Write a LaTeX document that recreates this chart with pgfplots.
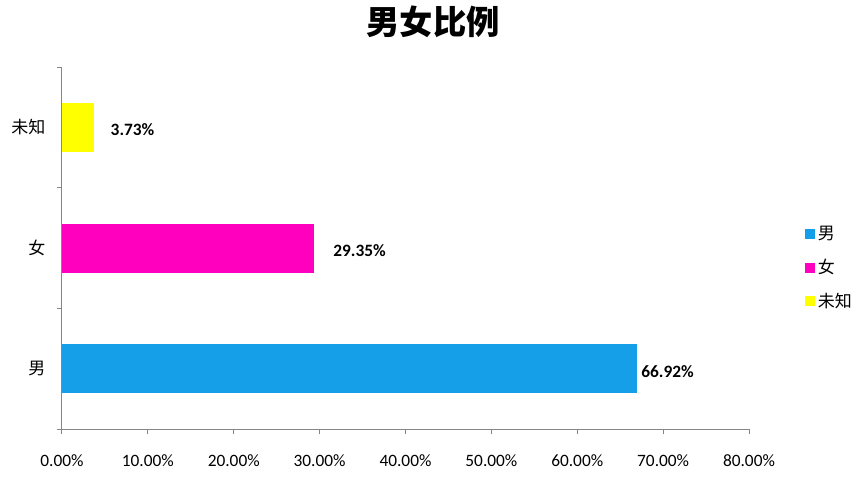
\documentclass[border=0pt]{standalone}
\usepackage{fontspec}
\usepackage{pgfplots}
\pgfplotsset{compat=1.18}
\setmainfont{Carlito}
\newfontfamily\cjk{Noto Sans CJK SC}
\definecolor{barblue}{RGB}{22,159,233}
\definecolor{barpink}{RGB}{255,0,191}
\definecolor{baryellow}{RGB}{255,255,0}
\definecolor{axisgray}{RGB}{134,134,134}

\begin{document}
\begin{tikzpicture}
% 1px = 0.75pt, picture 866x487 px
\useasboundingbox (-46.5pt,-43.5pt) rectangle (603pt,321.75pt);
\begin{axis}[
    scale only axis,
    width=515.25pt, height=271.5pt,
    xbar, bar width=36.75pt, bar shift=0pt,
    xmin=0, xmax=80,
    ymin=-0.5, ymax=2.5,
    axis lines*=left,
    axis line style={axisgray, line width=0.75pt},
    tick align=outside,
    major tick length=3.75pt,
    tick style={axisgray, line width=0.75pt},
    xtick={0,10,...,80},
    xticklabels={0.00\%,10.00\%,20.00\%,30.00\%,40.00\%,50.00\%,60.00\%,70.00\%,80.00\%},
    xticklabel style={font=\fontsize{13}{13}\selectfont, yshift=-12pt},
    ytick={-0.5,0.5,1.5,2.5},
    yticklabels={},
    extra y ticks={0,1,2},
    extra y tick labels={男,女,未知},
    extra y tick style={major tick length=0pt,
        yticklabel style={font=\cjk\fontsize{12.75}{13}\selectfont, xshift=-9pt}},
    point meta=x,
    nodes near coords={\bfseries\pgfmathprintnumber[fixed,fixed zerofill,precision=2]{\pgfplotspointmeta}\%},
    nodes near coords style={font=\fontsize{13}{13}\selectfont, anchor=west, yshift=-2pt},
    /pgf/number format/assume math mode=true,
    legend style={draw=none, fill=none, at={(1.0815,0.4448)}, anchor=west,
        font=\cjk\fontsize{12.75}{13}\selectfont, row sep=9pt, inner sep=0pt,
        nodes={inner sep=2pt}},
    legend cell align=left,
    legend image code/.code={\fill[#1] (0pt,-3.75pt) rectangle (7.5pt,3.75pt);},
]
\addplot[fill=barblue, draw=none, every node near coord/.append style={xshift=0pt}] coordinates {(66.92,0)};
\addlegendentry{男}
\addplot[fill=barpink, draw=none, every node near coord/.append style={xshift=11pt}] coordinates {(29.35,1)};
\addlegendentry{女}
\addplot[fill=baryellow, draw=none, every node near coord/.append style={xshift=9pt}] coordinates {(3.73,2)};
\addlegendentry{未知}
\end{axis}
\node[font=\cjk\bfseries\fontsize{25}{25}\selectfont] at (278.25pt,305.25pt) {男女比例};
\end{tikzpicture}
\end{document}
